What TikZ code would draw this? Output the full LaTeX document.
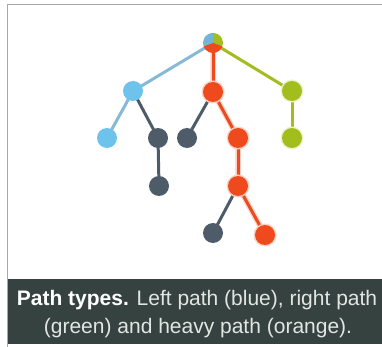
\documentclass[tikz,border=0pt]{standalone}
\usepackage{fontspec}
\setmainfont{Liberation Sans}
\begin{document}
\begin{tikzpicture}[x=1pt,y=-1pt,
  nd/.style={circle,minimum size=20pt,inner sep=0pt,fill=#1},
  halo/.style={circle,minimum size=23pt,inner sep=0pt,fill=#1},
  ed/.style={line width=3pt,draw=#1},
  captext/.style={anchor=base,inner sep=0pt,font=\fontsize{21}{28}\selectfont,text=ctext}]
\definecolor{cblue}{HTML}{6EC3EC}
\definecolor{cbline}{HTML}{86B9D6}
\definecolor{corange}{HTML}{EE4A1D}
\definecolor{cgreen}{HTML}{A2BE1E}
\definecolor{cdark}{HTML}{4E5C6A}
\definecolor{cband}{HTML}{364240}
\definecolor{cframe}{HTML}{A8A8A8}
\definecolor{chalo}{HTML}{FBD2C4}
\definecolor{cghalo}{HTML}{EEF3C8}
\definecolor{ctext}{HTML}{E2E6E2}
\useasboundingbox (0,0) rectangle (382,347);
\fill[white] (0,0) rectangle (382,347);
% frame
\fill[cband] (8,278.5) rectangle (382,344);
\draw[cframe,line width=1.5pt] (7.5,347) -- (7.5,4.5) -- (382,4.5);
% node positions
\coordinate (r) at (213,43);
\coordinate (b1) at (133,91);
\coordinate (o1) at (213,92);
\coordinate (g1) at (292,91);
\coordinate (b2) at (107,138);
\coordinate (d1) at (158,138);
\coordinate (d2) at (187,138);
\coordinate (o2) at (238,138);
\coordinate (g2) at (292,138);
\coordinate (d3) at (159,186);
\coordinate (o3) at (238,186);
\coordinate (d4) at (213,233);
\coordinate (o4) at (265,235);
% edges
\draw[ed=cbline] (r) -- (b1);
\draw[ed=cbline] (b1) -- (b2);
\draw[ed=cdark] (b1) -- (d1);
\draw[ed=cdark] (d1) -- (d3);
\draw[ed=cdark] (o1) -- (d2);
\draw[ed=cdark] (o3) -- (d4);
\draw[ed=cgreen] (r) -- (g1);
\draw[ed=cgreen] (g1) -- (g2);
\draw[line width=5.5pt,draw=chalo] (r) -- (o1) -- (o2) -- (o3) -- (o4);
\draw[ed=corange] (r) -- (o1);
\draw[ed=corange] (o1) -- (o2);
\draw[ed=corange] (o2) -- (o3);
\draw[ed=corange] (o3) -- (o4);
% nodes
\foreach \p in {o1,o2,o3,o4} \node[halo=chalo] at (\p) {};
\node[halo=cghalo] at (g1) {};
\node[halo=cghalo] at (g2) {};
\node[nd=cblue] (nb1) at (b1) {};
\node[nd=cblue] (nb2) at (b2) {};
\node[nd=corange] (no1) at (o1) {};
\node[nd=corange] (no2) at (o2) {};
\node[nd=corange] (no3) at (o3) {};
\node[nd=corange] (no4) at (o4) {};
\node[nd=cgreen] (ng1) at (g1) {};
\node[nd=cgreen] (ng2) at (g2) {};
\node[nd=cdark] (nd1) at (d1) {};
\node[nd=cdark] (nd2) at (d2) {};
\node[nd=cdark] (nd3) at (d3) {};
\node[nd=cdark] (nd4) at (d4) {};
% root pie
\begin{scope}[shift={(r)},x=1pt,y=1pt]
\fill[cgreen] (0,0) -- (90:10) arc[start angle=90,end angle=-20,radius=10] -- cycle;
\fill[cblue!80!gray] (0,0) -- (90:10) arc[start angle=90,end angle=200,radius=10] -- cycle;
\fill[corange] (0,0) -- (200:10) arc[start angle=200,end angle=340,radius=10] -- cycle;
\end{scope}
\node[circle,minimum size=20pt,inner sep=0pt] (nr) at (r) {};
% caption
\node[captext] (cap1) at (197,305) {\textbf{\color{white}Path types.} Left path (blue), right path};
\node[captext] (cap2) at (198,333) {(green) and heavy path (orange).};
\end{tikzpicture}
\end{document}
